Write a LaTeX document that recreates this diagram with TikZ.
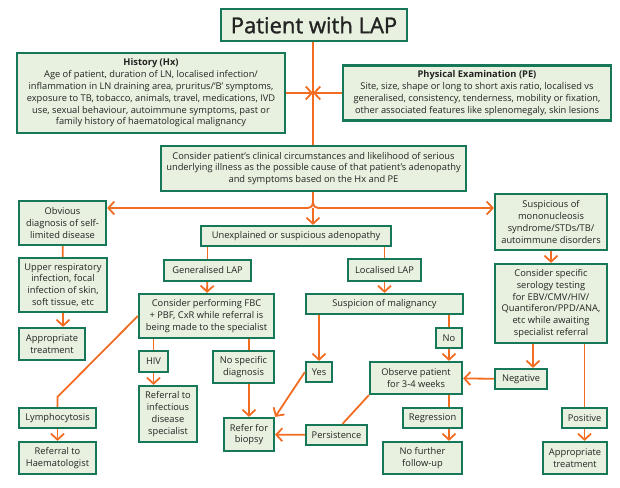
\documentclass[tikz,border=0pt]{standalone}
\usepackage{fontspec}
\setmainfont{Open Sans}
\newfontfamily\titlefont[FakeBold=1.3]{Open Sans}
\usetikzlibrary{arrows.meta}
\definecolor{lapgreen}{RGB}{22,120,88}
\definecolor{lapfill}{RGB}{232,241,223}
\definecolor{laporange}{RGB}{242,108,34}
\definecolor{laptext}{RGB}{35,35,35}

\begin{document}
\begin{tikzpicture}[x=1pt,y=-1pt,
    link/.style={draw=laporange,line width=1.8pt},
    >={Straight Barb[length=6pt,width=13pt]}]
\useasboundingbox[fill=white] (0,0) rectangle (620,487);

\begin{scope}[every node/.style={draw=lapgreen,fill=lapfill,line width=2.2pt,align=center,inner sep=1pt,
    text=laptext,font=\fontsize{9.3}{11.8}\selectfont}]
\node[minimum width=186pt,minimum height=32pt,font=\titlefont\fontsize{22}{26}\selectfont] (Title) at (314,25) {Patient with LAP};
\node[minimum width=268pt,minimum height=80pt] (Hx) at (151,93) {\textbf{History (Hx)}\\Age of patient, duration of LN, localised infection/\\inflammation in LN draining area, pruritus/‘B’ symptoms,\\exposure to TB, tobacco, animals, travel, medications, IVD\\use, sexual behaviour, autoimmune symptoms, past or\\family history of haematological malignancy};
\node[minimum width=268pt,minimum height=55pt] (PE) at (477,93) {\textbf{Physical Examination (PE)}\\Site, size, shape or long to short axis ratio, localised vs\\generalised, consistency, tenderness, mobility or fixation,\\other associated features like splenomegaly, skin lesions};
\node[minimum width=305pt,minimum height=45pt] (Consider) at (313.5,168.5) {Consider patient’s clinical circumstances and likelihood of serious\\underlying illness as the possible cause of that patient’s adenopathy\\and symptoms based on the Hx and PE};
\node[minimum width=87pt,minimum height=44pt] (Obvious) at (62.5,223) {Obvious\\diagnosis of self-\\limited disease};
\node[minimum width=112pt,minimum height=56pt] (SuspMono) at (551,222) {Suspicious of\\mononucleosis\\syndrome/STDs/TB/\\autoimmune disorders};
\node[minimum width=190pt,minimum height=20pt] (Unexpl) at (296,236) {Unexplained or suspicious adenopathy};
\node[minimum width=88pt,minimum height=54pt] (Upper) at (63,285) {Upper respiratory\\infection, focal\\infection of skin,\\soft tissue, etc};
\node[minimum width=66pt,minimum height=32pt] (TreatL) at (52,344) {Appropriate\\treatment};
\node[minimum width=87pt,minimum height=21pt] (General) at (207.5,270.5) {Generalised LAP};
\node[minimum width=73pt,minimum height=22pt] (Local) at (384.5,270) {Localised LAP};
\node[minimum width=112pt,minimum height=79pt] (Serology) at (551,303.5) {Consider specific\\serology testing\\for EBV/CMV/HIV/\\Quantiferon/PPD/ANA,\\etc while awaiting\\specialist referral};
\node[minimum width=135pt,minimum height=44pt] (FBC) at (206.5,316) {Consider performing FBC\\+ PBF, CxR while referral is\\being made to the specialist};
\node[minimum width=157pt,minimum height=20pt] (Malig) at (384.5,304) {Suspicion of malignancy};
\node[minimum width=29pt,minimum height=21pt] (HIV) at (153.5,361.5) {HIV};
\node[minimum width=61pt,minimum height=32pt] (NoSpec) at (243.5,367) {No specific\\diagnosis};
\node[minimum width=26pt,minimum height=20pt] (No) at (449,338) {No};
\node[minimum width=26pt,minimum height=20pt] (Yes) at (319,372) {Yes};
\node[minimum width=92pt,minimum height=32pt] (Observe) at (416,378) {Observe patient\\for 3-4 weeks};
\node[minimum width=52pt,minimum height=20pt] (Negative) at (521,379) {Negative};
\node[minimum width=58pt,minimum height=56pt] (RefInf) at (168,414) {Referral to\\infectious\\disease\\specialist};
\node[minimum width=77pt,minimum height=20pt] (Lympho) at (57.5,418) {Lymphocytosis};
\node[minimum width=59pt,minimum height=20pt] (Regress) at (432.5,418) {Regression};
\node[minimum width=45pt,minimum height=20pt] (Positive) at (584.5,418) {Positive};
\node[minimum width=50pt,minimum height=33pt] (Biopsy) at (249,434.5) {Refer for\\biopsy};
\node[minimum width=61pt,minimum height=20pt] (Persist) at (336.5,435) {Persistence};
\node[minimum width=77pt,minimum height=32pt] (Haemat) at (57.5,458) {Referral to\\Haematologist};
\node[minimum width=79pt,minimum height=32pt] (NoFurther) at (422.5,458) {No further\\follow-up};
\node[minimum width=64pt,minimum height=32pt] (TreatR) at (575,458) {Appropriate\\treatment};
\end{scope}

\coordinate (Main) at (313,93);
\coordinate (Split) at (313,208);

\begin{scope}[every edge/.style={link}]
    % history and examination feed the main line
    \path (Title.south -| Main) edge (Consider.north -| Main);
    \path [->] (Hx.east) edge (Main);
    \path [->] (PE.west) edge (Main);
    % three ways out of the first assessment
    \draw [link,->,rounded corners=5pt] (Consider.south -| Split) |- (Obvious.east |- Split);
    \draw [link,->,rounded corners=5pt] (Consider.south -| Split) |- (SuspMono.west |- Split);
    \path [->] (Split) edge (Split |- Unexpl.north);
    % left column
    \path (Obvious) edge (Upper);
    \path [->] (Upper.south) edge (Upper.south |- TreatL.north);
    % generalised
    \path (Unexpl.south -| General) edge (General);
    \path [->] (General) edge (FBC);
    \path (FBC.south -| HIV) edge (HIV);
    \path [->] (HIV.south) edge (HIV.south |- RefInf.north);
    \path (FBC.south -| Biopsy) edge (NoSpec.north -| Biopsy);
    \path [->] (NoSpec.south -| Biopsy) edge (Biopsy);
    \draw [link] (FBC.west) -- ([yshift=10pt]Lympho.north) -- (Lympho.north);
    \path [->] (Lympho) edge (Haemat);
    % localised
    \path (Unexpl.south -| Local) edge (Local);
    \path [->] (Local) edge (Malig);
    \path [->] (Malig.south -| Yes) edge (Yes);
    \path (Malig.south -| No) edge (No);
    \path [->] (Yes.west) edge (Biopsy.north east);
    \path [->] (No.south) edge (No.south |- Observe.north);
    \path (Observe.south west) edge ([xshift=6pt]Persist.north);
    \path [->] (Persist) edge (Biopsy);
    \path (Observe.south -| No) edge (Regress.north -| No);
    \path [->] (Regress.south -| No) edge (NoFurther.north -| No);
    % right column
    \path [->] (SuspMono) edge (Serology);
    \path [->] ([xshift=12pt]Negative.north |- Serology.south) edge ([xshift=12pt]Negative.north);
    \path [->] (Negative) edge (Observe);
    \path (Serology.south -| Positive) edge (Positive);
    \path [->] (Positive.south) edge (Positive.south |- TreatR.north);
\end{scope}
\end{tikzpicture}
\end{document}
